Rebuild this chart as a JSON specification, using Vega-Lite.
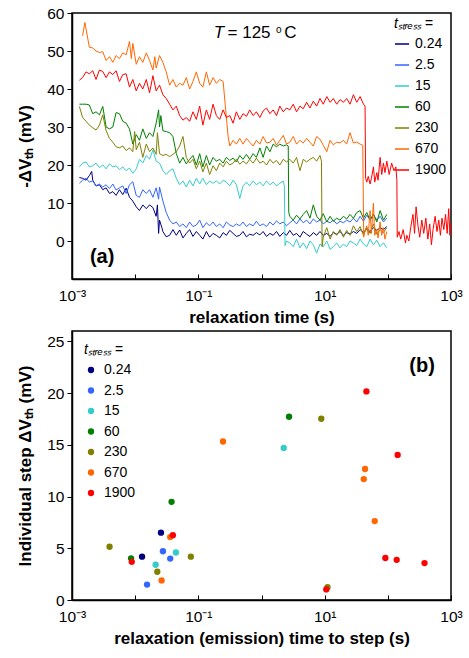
{
"$schema": "https://vega.github.io/schema/vega-lite/v6.json",
"background": "white",
"padding": {"left": 16, "top": 5, "right": 0, "bottom": 3},
"spacing": 3,
"config": {
 "font": "Liberation Sans",
 "view": {"stroke": "black", "strokeWidth": 1.5},
 "axis": {"grid": false, "domainColor": "black", "domainWidth": 1.5, "tickColor": "black", "labelColor": "black", "titleColor": "black", "labelFont": "Liberation Sans", "titleFont": "Liberation Sans", "labelFontSize": 15.5, "titleFontSize": 17, "titleFontWeight": "bold"},
 "axisX": {"tickSize": -5, "labelPadding": 14, "labelFlush": false, "labelOverlap": false, "labelBound": false, "titlePadding": 6},
 "axisY": {"tickSize": 5, "labelPadding": 3, "titlePadding": 12, "labelOverlap": false},
 "legend": {"labelFont": "Liberation Sans", "titleFont": "Liberation Sans", "labelFontSize": 14, "titleFontSize": 14, "titleFontWeight": "normal", "titleFontStyle": "italic", "labelColor": "black", "titleColor": "black", "padding": 0}
},
"resolve": {"scale": {"x": "independent", "y": "independent", "color": "independent"}, "legend": {"color": "independent"}},
"datasets": {
 "lines": [
{"s":"0.24","t":0.00131,"v":16.7},{"s":"0.24","t":0.00147,"v":16.5},{"s":"0.24","t":0.00167,"v":16},{"s":"0.24","t":0.00188,"v":17.2},{"s":"0.24","t":0.00205,"v":18.3},{"s":"0.24","t":0.00213,"v":16},{"s":"0.24","t":0.0024,"v":14.5},{"s":"0.24","t":0.00272,"v":14.8},{"s":"0.24","t":0.00307,"v":13.5},{"s":"0.24","t":0.00347,"v":14},{"s":"0.24","t":0.00392,"v":12.5},{"s":"0.24","t":0.00443,"v":13},{"s":"0.24","t":0.00499,"v":12},{"s":"0.24","t":0.00564,"v":13.5},{"s":"0.24","t":0.00637,"v":12.2},{"s":"0.24","t":0.0072,"v":13.9},{"s":"0.24","t":0.00813,"v":11.5},{"s":"0.24","t":0.00918,"v":10.5},{"s":"0.24","t":0.0104,"v":9},{"s":"0.24","t":0.0117,"v":8},{"s":"0.24","t":0.0132,"v":9.5},{"s":"0.24","t":0.015,"v":8.5},{"s":"0.24","t":0.0169,"v":9.5},{"s":"0.24","t":0.0191,"v":8.8},{"s":"0.24","t":0.0215,"v":6.5},{"s":"0.24","t":0.0225,"v":9.5},{"s":"0.24","t":0.0235,"v":2},{"s":"0.24","t":0.0243,"v":5.5},{"s":"0.24","t":0.0265,"v":3.5},{"s":"0.24","t":0.0275,"v":2.5},{"s":"0.24","t":0.031,"v":1.1},{"s":"0.24","t":0.0351,"v":1.5},{"s":"0.24","t":0.0396,"v":3},{"s":"0.24","t":0.0448,"v":1.5},{"s":"0.24","t":0.0506,"v":2.9},{"s":"0.24","t":0.0571,"v":0.8},{"s":"0.24","t":0.0645,"v":2},{"s":"0.24","t":0.0728,"v":3},{"s":"0.24","t":0.0822,"v":1.2},{"s":"0.24","t":0.0929,"v":2.5},{"s":"0.24","t":0.105,"v":1.5},{"s":"0.24","t":0.118,"v":0.5},{"s":"0.24","t":0.134,"v":2.5},{"s":"0.24","t":0.151,"v":1},{"s":"0.24","t":0.171,"v":2},{"s":"0.24","t":0.193,"v":1.5},{"s":"0.24","t":0.218,"v":0.8},{"s":"0.24","t":0.247,"v":2.2},{"s":"0.24","t":0.278,"v":1.5},{"s":"0.24","t":0.315,"v":2.8},{"s":"0.24","t":0.355,"v":2},{"s":"0.24","t":0.4,"v":1.2},{"s":"0.24","t":0.453,"v":1.5},{"s":"0.24","t":0.51,"v":2.5},{"s":"0.24","t":0.578,"v":1.1},{"s":"0.24","t":0.65,"v":1.8},{"s":"0.24","t":0.738,"v":1.5},{"s":"0.24","t":0.83,"v":2.2},{"s":"0.24","t":0.942,"v":1.6},{"s":"0.24","t":1.06,"v":2.5},{"s":"0.24","t":1.2,"v":1.2},{"s":"0.24","t":1.36,"v":2},{"s":"0.24","t":1.53,"v":1.5},{"s":"0.24","t":1.73,"v":2.5},{"s":"0.24","t":1.95,"v":1.2},{"s":"0.24","t":2.21,"v":2.2},{"s":"0.24","t":2.49,"v":1.5},{"s":"0.24","t":2.81,"v":2.8},{"s":"0.24","t":3.18,"v":1.5},{"s":"0.24","t":3.59,"v":2},{"s":"0.24","t":4.06,"v":1},{"s":"0.24","t":4.58,"v":2.5},{"s":"0.24","t":5.18,"v":1.8},{"s":"0.24","t":5.85,"v":1.2},{"s":"0.24","t":6.61,"v":2.2},{"s":"0.24","t":7.46,"v":1.5},{"s":"0.24","t":8.43,"v":2.5},{"s":"0.24","t":9.5,"v":1.5},{"s":"0.24","t":10.8,"v":2},{"s":"0.24","t":12.2,"v":1.2},{"s":"0.24","t":13.7,"v":2.2},{"s":"0.24","t":15.5,"v":1.8},{"s":"0.24","t":17.5,"v":2.5},{"s":"0.24","t":19.8,"v":1.5},{"s":"0.24","t":22.3,"v":2.2},{"s":"0.24","t":25.2,"v":1.8},{"s":"0.24","t":28.5,"v":2.5},{"s":"0.24","t":32.2,"v":2},{"s":"0.24","t":36.4,"v":3},{"s":"0.24","t":41.1,"v":2.2},{"s":"0.24","t":46.4,"v":3.2},{"s":"0.24","t":52.4,"v":2.5},{"s":"0.24","t":59.2,"v":3.5},{"s":"0.24","t":66.9,"v":2.8},{"s":"0.24","t":75.5,"v":3.5},{"s":"0.24","t":85.3,"v":3},{"s":"0.24","t":96.4,"v":3.8},
{"s":"2.5","t":0.00131,"v":15.2},{"s":"2.5","t":0.00147,"v":16},{"s":"2.5","t":0.00167,"v":16.5},{"s":"2.5","t":0.00188,"v":15.5},{"s":"2.5","t":0.00213,"v":15.8},{"s":"2.5","t":0.0024,"v":14.5},{"s":"2.5","t":0.00272,"v":15},{"s":"2.5","t":0.00307,"v":14.2},{"s":"2.5","t":0.00347,"v":14.8},{"s":"2.5","t":0.00392,"v":13.8},{"s":"2.5","t":0.00443,"v":15},{"s":"2.5","t":0.00499,"v":13.4},{"s":"2.5","t":0.00564,"v":14},{"s":"2.5","t":0.00637,"v":14.5},{"s":"2.5","t":0.0072,"v":12.5},{"s":"2.5","t":0.00813,"v":14.8},{"s":"2.5","t":0.00918,"v":15.6},{"s":"2.5","t":0.0104,"v":12},{"s":"2.5","t":0.0117,"v":11.5},{"s":"2.5","t":0.0132,"v":13.5},{"s":"2.5","t":0.015,"v":12.5},{"s":"2.5","t":0.0169,"v":13.5},{"s":"2.5","t":0.0191,"v":11.5},{"s":"2.5","t":0.0215,"v":14},{"s":"2.5","t":0.0235,"v":11},{"s":"2.5","t":0.0243,"v":14.2},{"s":"2.5","t":0.0275,"v":10.5},{"s":"2.5","t":0.031,"v":7.5},{"s":"2.5","t":0.0351,"v":5.5},{"s":"2.5","t":0.0396,"v":4.5},{"s":"2.5","t":0.0448,"v":5},{"s":"2.5","t":0.0506,"v":3.8},{"s":"2.5","t":0.0571,"v":4.5},{"s":"2.5","t":0.0645,"v":3.5},{"s":"2.5","t":0.0728,"v":5},{"s":"2.5","t":0.0822,"v":3.8},{"s":"2.5","t":0.0929,"v":4.2},{"s":"2.5","t":0.105,"v":5.5},{"s":"2.5","t":0.118,"v":3.5},{"s":"2.5","t":0.134,"v":4.8},{"s":"2.5","t":0.151,"v":4},{"s":"2.5","t":0.171,"v":5},{"s":"2.5","t":0.193,"v":3.8},{"s":"2.5","t":0.218,"v":4.5},{"s":"2.5","t":0.247,"v":3.5},{"s":"2.5","t":0.278,"v":5},{"s":"2.5","t":0.315,"v":4.2},{"s":"2.5","t":0.355,"v":3.8},{"s":"2.5","t":0.4,"v":4.5},{"s":"2.5","t":0.453,"v":4},{"s":"2.5","t":0.51,"v":5},{"s":"2.5","t":0.578,"v":3.8},{"s":"2.5","t":0.65,"v":4.5},{"s":"2.5","t":0.738,"v":4},{"s":"2.5","t":0.83,"v":5.2},{"s":"2.5","t":0.942,"v":4},{"s":"2.5","t":1.06,"v":4.5},{"s":"2.5","t":1.2,"v":3.8},{"s":"2.5","t":1.36,"v":5},{"s":"2.5","t":1.53,"v":4.2},{"s":"2.5","t":1.73,"v":5.3},{"s":"2.5","t":1.95,"v":4.5},{"s":"2.5","t":2.21,"v":5},{"s":"2.5","t":2.49,"v":4},{"s":"2.5","t":2.81,"v":4.8},{"s":"2.5","t":3.18,"v":5.5},{"s":"2.5","t":3.59,"v":4.5},{"s":"2.5","t":4.06,"v":5.8},{"s":"2.5","t":4.58,"v":4.8},{"s":"2.5","t":5.18,"v":5.5},{"s":"2.5","t":5.85,"v":4.5},{"s":"2.5","t":6.61,"v":5.8},{"s":"2.5","t":7.46,"v":5},{"s":"2.5","t":8.43,"v":5.5},{"s":"2.5","t":9.5,"v":4.5},{"s":"2.5","t":10.8,"v":5.2},{"s":"2.5","t":12.2,"v":4.8},{"s":"2.5","t":13.7,"v":5.5},{"s":"2.5","t":15.5,"v":4.5},{"s":"2.5","t":17.5,"v":5.2},{"s":"2.5","t":19.8,"v":4.8},{"s":"2.5","t":22.3,"v":5.5},{"s":"2.5","t":25.2,"v":5},{"s":"2.5","t":28.5,"v":6},{"s":"2.5","t":32.2,"v":5},{"s":"2.5","t":36.4,"v":6.5},{"s":"2.5","t":41.1,"v":5.2},{"s":"2.5","t":46.4,"v":6.8},{"s":"2.5","t":52.4,"v":5.5},{"s":"2.5","t":59.2,"v":7},{"s":"2.5","t":66.9,"v":5.5},{"s":"2.5","t":75.5,"v":6.5},{"s":"2.5","t":85.3,"v":5},{"s":"2.5","t":96.4,"v":6},
{"s":"15","t":0.00131,"v":19.5},{"s":"15","t":0.00147,"v":20.5},{"s":"15","t":0.00167,"v":20.8},{"s":"15","t":0.00188,"v":19.5},{"s":"15","t":0.00213,"v":19.8},{"s":"15","t":0.0024,"v":20.5},{"s":"15","t":0.00272,"v":19.3},{"s":"15","t":0.00307,"v":20},{"s":"15","t":0.00347,"v":19},{"s":"15","t":0.00392,"v":20.3},{"s":"15","t":0.00443,"v":19.5},{"s":"15","t":0.00499,"v":19.8},{"s":"15","t":0.00564,"v":18.8},{"s":"15","t":0.00637,"v":19.5},{"s":"15","t":0.0072,"v":18.5},{"s":"15","t":0.00813,"v":19.2},{"s":"15","t":0.00918,"v":17.8},{"s":"15","t":0.0104,"v":19},{"s":"15","t":0.0117,"v":21.5},{"s":"15","t":0.0132,"v":20.5},{"s":"15","t":0.015,"v":22.5},{"s":"15","t":0.0169,"v":21.5},{"s":"15","t":0.0191,"v":24},{"s":"15","t":0.0215,"v":21},{"s":"15","t":0.0243,"v":20.5},{"s":"15","t":0.0275,"v":18.5},{"s":"15","t":0.031,"v":17.5},{"s":"15","t":0.0351,"v":18.5},{"s":"15","t":0.0396,"v":19},{"s":"15","t":0.0448,"v":16.5},{"s":"15","t":0.0506,"v":14.8},{"s":"15","t":0.0571,"v":15.8},{"s":"15","t":0.0645,"v":14.2},{"s":"15","t":0.0728,"v":16},{"s":"15","t":0.0822,"v":14.5},{"s":"15","t":0.0929,"v":16.5},{"s":"15","t":0.105,"v":15},{"s":"15","t":0.118,"v":16.5},{"s":"15","t":0.134,"v":14.8},{"s":"15","t":0.151,"v":15.8},{"s":"15","t":0.171,"v":15.2},{"s":"15","t":0.193,"v":15.8},{"s":"15","t":0.218,"v":15},{"s":"15","t":0.247,"v":16},{"s":"15","t":0.278,"v":15.5},{"s":"15","t":0.315,"v":14.5},{"s":"15","t":0.355,"v":16},{"s":"15","t":0.4,"v":14.8},{"s":"15","t":0.453,"v":11.2},{"s":"15","t":0.51,"v":14.5},{"s":"15","t":0.578,"v":15.5},{"s":"15","t":0.65,"v":14.5},{"s":"15","t":0.738,"v":15.8},{"s":"15","t":0.83,"v":14.8},{"s":"15","t":0.942,"v":15.5},{"s":"15","t":1.06,"v":14.5},{"s":"15","t":1.2,"v":15.8},{"s":"15","t":1.36,"v":14.8},{"s":"15","t":1.53,"v":15.5},{"s":"15","t":1.73,"v":14.5},{"s":"15","t":1.95,"v":15.2},{"s":"15","t":2.21,"v":15.8},{"s":"15","t":2.3,"v":14.5},{"s":"15","t":2.36,"v":-1.2},{"s":"15","t":2.49,"v":0},{"s":"15","t":2.81,"v":-0.5},{"s":"15","t":3.18,"v":-1.5},{"s":"15","t":3.59,"v":0.5},{"s":"15","t":4.06,"v":-1.8},{"s":"15","t":4.58,"v":-0.5},{"s":"15","t":5.18,"v":-2},{"s":"15","t":5.85,"v":0},{"s":"15","t":6.61,"v":-1},{"s":"15","t":7.46,"v":-3.2},{"s":"15","t":8.43,"v":-0.8},{"s":"15","t":9.5,"v":-1.5},{"s":"15","t":10.8,"v":0},{"s":"15","t":12.2,"v":-2.2},{"s":"15","t":13.7,"v":-1.5},{"s":"15","t":15.5,"v":-0.5},{"s":"15","t":17.5,"v":-1.8},{"s":"15","t":19.8,"v":-0.8},{"s":"15","t":22.3,"v":-1.5},{"s":"15","t":25.2,"v":0},{"s":"15","t":28.5,"v":-0.5},{"s":"15","t":32.2,"v":-1.2},{"s":"15","t":36.4,"v":0.5},{"s":"15","t":41.1,"v":-0.8},{"s":"15","t":46.4,"v":-1.5},{"s":"15","t":52.4,"v":0.5},{"s":"15","t":59.2,"v":-1},{"s":"15","t":66.9,"v":0.2},{"s":"15","t":75.5,"v":-1.5},{"s":"15","t":85.3,"v":-0.5},{"s":"15","t":96.4,"v":-1.8},
{"s":"60","t":0.00131,"v":36},{"s":"60","t":0.00147,"v":36},{"s":"60","t":0.00167,"v":36},{"s":"60","t":0.00188,"v":35.8},{"s":"60","t":0.00213,"v":33.5},{"s":"60","t":0.0024,"v":34},{"s":"60","t":0.00272,"v":33.2},{"s":"60","t":0.00307,"v":35.4},{"s":"60","t":0.00347,"v":30},{"s":"60","t":0.00392,"v":29.5},{"s":"60","t":0.00443,"v":30},{"s":"60","t":0.00499,"v":33.8},{"s":"60","t":0.00564,"v":33.5},{"s":"60","t":0.00637,"v":31.5},{"s":"60","t":0.0072,"v":31},{"s":"60","t":0.00813,"v":29.5},{"s":"60","t":0.00918,"v":25.5},{"s":"60","t":0.0104,"v":28},{"s":"60","t":0.0117,"v":26.5},{"s":"60","t":0.0132,"v":29.5},{"s":"60","t":0.015,"v":27},{"s":"60","t":0.0169,"v":28.5},{"s":"60","t":0.0191,"v":27.5},{"s":"60","t":0.0215,"v":31},{"s":"60","t":0.0235,"v":34.5},{"s":"60","t":0.0243,"v":30},{"s":"60","t":0.0255,"v":33},{"s":"60","t":0.0275,"v":29},{"s":"60","t":0.031,"v":28.8},{"s":"60","t":0.0351,"v":28.5},{"s":"60","t":0.0396,"v":27.5},{"s":"60","t":0.0448,"v":23},{"s":"60","t":0.0506,"v":20.5},{"s":"60","t":0.0571,"v":22},{"s":"60","t":0.0645,"v":20.3},{"s":"60","t":0.0728,"v":21.5},{"s":"60","t":0.0822,"v":22.5},{"s":"60","t":0.0929,"v":20},{"s":"60","t":0.105,"v":23},{"s":"60","t":0.118,"v":19.5},{"s":"60","t":0.134,"v":22.5},{"s":"60","t":0.151,"v":20},{"s":"60","t":0.171,"v":22},{"s":"60","t":0.193,"v":21},{"s":"60","t":0.218,"v":21.5},{"s":"60","t":0.247,"v":20.5},{"s":"60","t":0.278,"v":22},{"s":"60","t":0.315,"v":21.2},{"s":"60","t":0.355,"v":21.8},{"s":"60","t":0.4,"v":20.8},{"s":"60","t":0.453,"v":22.5},{"s":"60","t":0.51,"v":21.5},{"s":"60","t":0.578,"v":22.8},{"s":"60","t":0.65,"v":21.5},{"s":"60","t":0.738,"v":23},{"s":"60","t":0.83,"v":22},{"s":"60","t":0.942,"v":24.5},{"s":"60","t":1.06,"v":22},{"s":"60","t":1.2,"v":25},{"s":"60","t":1.36,"v":23.5},{"s":"60","t":1.53,"v":25.5},{"s":"60","t":1.73,"v":24.8},{"s":"60","t":1.95,"v":25.5},{"s":"60","t":2.21,"v":25},{"s":"60","t":2.49,"v":25.3},{"s":"60","t":2.65,"v":25},{"s":"60","t":2.7,"v":7.5},{"s":"60","t":2.81,"v":6.5},{"s":"60","t":3.18,"v":5.5},{"s":"60","t":3.59,"v":6.8},{"s":"60","t":4.06,"v":5.8},{"s":"60","t":4.58,"v":7},{"s":"60","t":5.18,"v":8},{"s":"60","t":5.85,"v":6},{"s":"60","t":6.61,"v":9.5},{"s":"60","t":7.46,"v":6.5},{"s":"60","t":8.43,"v":5.5},{"s":"60","t":9.5,"v":7.2},{"s":"60","t":10.8,"v":5},{"s":"60","t":12.2,"v":6.5},{"s":"60","t":13.7,"v":5.2},{"s":"60","t":15.5,"v":6},{"s":"60","t":17.5,"v":5.5},{"s":"60","t":19.8,"v":6.5},{"s":"60","t":22.3,"v":5.8},{"s":"60","t":25.2,"v":7},{"s":"60","t":28.5,"v":6},{"s":"60","t":32.2,"v":7.5},{"s":"60","t":36.4,"v":8},{"s":"60","t":41.1,"v":6},{"s":"60","t":46.4,"v":7.5},{"s":"60","t":52.4,"v":5.5},{"s":"60","t":59.2,"v":7},{"s":"60","t":66.9,"v":5},{"s":"60","t":75.5,"v":8},{"s":"60","t":85.3,"v":5.5},{"s":"60","t":96.4,"v":7},
{"s":"230","t":0.00131,"v":35.4},{"s":"230","t":0.00147,"v":32.5},{"s":"230","t":0.00167,"v":31.5},{"s":"230","t":0.00188,"v":30.5},{"s":"230","t":0.00213,"v":29.8},{"s":"230","t":0.0024,"v":29.2},{"s":"230","t":0.00272,"v":30.5},{"s":"230","t":0.00307,"v":33.2},{"s":"230","t":0.00347,"v":29},{"s":"230","t":0.00392,"v":27},{"s":"230","t":0.00443,"v":26},{"s":"230","t":0.00499,"v":24.8},{"s":"230","t":0.00564,"v":24.5},{"s":"230","t":0.00637,"v":25},{"s":"230","t":0.0072,"v":23.8},{"s":"230","t":0.00813,"v":24.5},{"s":"230","t":0.00918,"v":23.5},{"s":"230","t":0.0098,"v":28.8},{"s":"230","t":0.0104,"v":24},{"s":"230","t":0.0117,"v":26},{"s":"230","t":0.0132,"v":22},{"s":"230","t":0.015,"v":25.5},{"s":"230","t":0.0169,"v":23.5},{"s":"230","t":0.0191,"v":24.5},{"s":"230","t":0.0215,"v":22.8},{"s":"230","t":0.0225,"v":28.5},{"s":"230","t":0.0243,"v":23},{"s":"230","t":0.0275,"v":22.5},{"s":"230","t":0.031,"v":22.8},{"s":"230","t":0.0351,"v":22.2},{"s":"230","t":0.0396,"v":22.8},{"s":"230","t":0.0448,"v":23.5},{"s":"230","t":0.0506,"v":25},{"s":"230","t":0.0571,"v":27.5},{"s":"230","t":0.0645,"v":22},{"s":"230","t":0.0728,"v":20.5},{"s":"230","t":0.0822,"v":21.5},{"s":"230","t":0.0929,"v":19},{"s":"230","t":0.105,"v":21},{"s":"230","t":0.118,"v":18.2},{"s":"230","t":0.134,"v":20.5},{"s":"230","t":0.151,"v":17.5},{"s":"230","t":0.171,"v":19.8},{"s":"230","t":0.193,"v":18.5},{"s":"230","t":0.218,"v":20.5},{"s":"230","t":0.247,"v":19.5},{"s":"230","t":0.278,"v":21},{"s":"230","t":0.315,"v":20},{"s":"230","t":0.355,"v":20.5},{"s":"230","t":0.4,"v":21.5},{"s":"230","t":0.453,"v":20.2},{"s":"230","t":0.51,"v":21},{"s":"230","t":0.578,"v":20.3},{"s":"230","t":0.65,"v":21.5},{"s":"230","t":0.738,"v":20.5},{"s":"230","t":0.83,"v":21.8},{"s":"230","t":0.942,"v":20.5},{"s":"230","t":1.06,"v":21},{"s":"230","t":1.2,"v":20},{"s":"230","t":1.36,"v":21.5},{"s":"230","t":1.53,"v":20.5},{"s":"230","t":1.73,"v":21.2},{"s":"230","t":1.95,"v":20},{"s":"230","t":2.21,"v":21.5},{"s":"230","t":2.49,"v":20.8},{"s":"230","t":2.81,"v":21.5},{"s":"230","t":3.18,"v":20.5},{"s":"230","t":3.59,"v":22},{"s":"230","t":4.06,"v":18.5},{"s":"230","t":4.58,"v":21.5},{"s":"230","t":5.18,"v":20.8},{"s":"230","t":5.85,"v":21.5},{"s":"230","t":6.61,"v":22},{"s":"230","t":7.46,"v":21},{"s":"230","t":8.43,"v":22.5},{"s":"230","t":8.9,"v":21},{"s":"230","t":9.1,"v":-1.5},{"s":"230","t":9.5,"v":1},{"s":"230","t":10.8,"v":3.5},{"s":"230","t":12.2,"v":0.5},{"s":"230","t":13.7,"v":2.5},{"s":"230","t":15.5,"v":1.5},{"s":"230","t":17.5,"v":3},{"s":"230","t":19.8,"v":1},{"s":"230","t":22.3,"v":2.8},{"s":"230","t":25.2,"v":1.5},{"s":"230","t":28.5,"v":4},{"s":"230","t":32.2,"v":2.5},{"s":"230","t":36.4,"v":3.8},{"s":"230","t":41.1,"v":1.5},{"s":"230","t":46.4,"v":3.5},{"s":"230","t":52.4,"v":2},{"s":"230","t":59.2,"v":4.5},{"s":"230","t":66.9,"v":1.8},{"s":"230","t":75.5,"v":3},{"s":"230","t":85.3,"v":2.2},{"s":"230","t":96.4,"v":3.5},
{"s":"670","t":0.00147,"v":54},{"s":"670","t":0.0016,"v":57.5},{"s":"670","t":0.00188,"v":51},{"s":"670","t":0.00213,"v":50.8},{"s":"670","t":0.0024,"v":50},{"s":"670","t":0.00272,"v":49.6},{"s":"670","t":0.00307,"v":49.8},{"s":"670","t":0.00347,"v":47.5},{"s":"670","t":0.00392,"v":48.5},{"s":"670","t":0.00443,"v":47},{"s":"670","t":0.00499,"v":48.8},{"s":"670","t":0.00564,"v":48},{"s":"670","t":0.00637,"v":49.5},{"s":"670","t":0.0072,"v":49},{"s":"670","t":0.00813,"v":52.5},{"s":"670","t":0.0087,"v":48},{"s":"670","t":0.00918,"v":52},{"s":"670","t":0.0104,"v":46.5},{"s":"670","t":0.0117,"v":48.5},{"s":"670","t":0.0132,"v":47},{"s":"670","t":0.015,"v":49.5},{"s":"670","t":0.0169,"v":47.5},{"s":"670","t":0.0191,"v":45},{"s":"670","t":0.0205,"v":48.5},{"s":"670","t":0.0215,"v":45.5},{"s":"670","t":0.0243,"v":48.8},{"s":"670","t":0.0275,"v":47},{"s":"670","t":0.031,"v":44.5},{"s":"670","t":0.0351,"v":41},{"s":"670","t":0.0396,"v":42.5},{"s":"670","t":0.0448,"v":40.5},{"s":"670","t":0.0506,"v":41.5},{"s":"670","t":0.0571,"v":41},{"s":"670","t":0.0645,"v":43},{"s":"670","t":0.0728,"v":40},{"s":"670","t":0.0822,"v":42},{"s":"670","t":0.0929,"v":44.5},{"s":"670","t":0.105,"v":41.5},{"s":"670","t":0.118,"v":40.5},{"s":"670","t":0.134,"v":44.5},{"s":"670","t":0.151,"v":41},{"s":"670","t":0.171,"v":43},{"s":"670","t":0.193,"v":41.5},{"s":"670","t":0.218,"v":42.5},{"s":"670","t":0.247,"v":42},{"s":"670","t":0.296,"v":27.5},{"s":"670","t":0.315,"v":25},{"s":"670","t":0.355,"v":26.5},{"s":"670","t":0.4,"v":25.5},{"s":"670","t":0.453,"v":27},{"s":"670","t":0.51,"v":25.5},{"s":"670","t":0.578,"v":27},{"s":"670","t":0.65,"v":26},{"s":"670","t":0.738,"v":25},{"s":"670","t":0.83,"v":26.5},{"s":"670","t":0.942,"v":25.5},{"s":"670","t":1.06,"v":27.5},{"s":"670","t":1.2,"v":25.8},{"s":"670","t":1.36,"v":26},{"s":"670","t":1.53,"v":27},{"s":"670","t":1.73,"v":25.2},{"s":"670","t":1.95,"v":26.5},{"s":"670","t":2.21,"v":27.8},{"s":"670","t":2.49,"v":25.5},{"s":"670","t":2.81,"v":26},{"s":"670","t":3.18,"v":27.5},{"s":"670","t":3.59,"v":25.5},{"s":"670","t":4.06,"v":26.5},{"s":"670","t":4.58,"v":25.8},{"s":"670","t":5.18,"v":27},{"s":"670","t":5.85,"v":26},{"s":"670","t":6.61,"v":25},{"s":"670","t":7.46,"v":27.5},{"s":"670","t":8.43,"v":26.8},{"s":"670","t":9.5,"v":25.2},{"s":"670","t":10.8,"v":23.5},{"s":"670","t":12.2,"v":26.5},{"s":"670","t":13.7,"v":25.3},{"s":"670","t":15.5,"v":26},{"s":"670","t":17.5,"v":25.8},{"s":"670","t":19.8,"v":26.5},{"s":"670","t":22.3,"v":25.5},{"s":"670","t":25.2,"v":28.5},{"s":"670","t":28.5,"v":25.8},{"s":"670","t":32.2,"v":26},{"s":"670","t":36.4,"v":25.5},{"s":"670","t":40.1,"v":25.2},{"s":"670","t":41.5,"v":1},{"s":"670","t":43,"v":2.5},{"s":"670","t":46.4,"v":4},{"s":"670","t":49,"v":1.5},{"s":"670","t":52.4,"v":8},{"s":"670","t":55,"v":2},{"s":"670","t":59.2,"v":10},{"s":"670","t":62,"v":1.5},{"s":"670","t":66.9,"v":3},{"s":"670","t":70,"v":0.8},{"s":"670","t":75.5,"v":5},{"s":"670","t":80,"v":1.5},{"s":"670","t":85.3,"v":3.5},{"s":"670","t":90,"v":0.5},{"s":"670","t":96.4,"v":2.5},
{"s":"1900","t":0.00131,"v":42.3},{"s":"1900","t":0.00147,"v":43},{"s":"1900","t":0.00167,"v":44.5},{"s":"1900","t":0.00188,"v":44},{"s":"1900","t":0.00213,"v":44.8},{"s":"1900","t":0.0024,"v":42.5},{"s":"1900","t":0.00272,"v":45},{"s":"1900","t":0.00307,"v":44.6},{"s":"1900","t":0.00347,"v":43},{"s":"1900","t":0.00392,"v":44.5},{"s":"1900","t":0.00443,"v":43.8},{"s":"1900","t":0.00499,"v":44.8},{"s":"1900","t":0.00564,"v":42},{"s":"1900","t":0.00637,"v":43.8},{"s":"1900","t":0.0072,"v":44},{"s":"1900","t":0.00813,"v":40.5},{"s":"1900","t":0.00918,"v":42.5},{"s":"1900","t":0.0104,"v":39.5},{"s":"1900","t":0.0117,"v":41.5},{"s":"1900","t":0.0132,"v":40},{"s":"1900","t":0.015,"v":42.5},{"s":"1900","t":0.0169,"v":39},{"s":"1900","t":0.0191,"v":43.5},{"s":"1900","t":0.0215,"v":39.5},{"s":"1900","t":0.0243,"v":41},{"s":"1900","t":0.0275,"v":38.5},{"s":"1900","t":0.031,"v":37.5},{"s":"1900","t":0.0351,"v":36},{"s":"1900","t":0.0396,"v":34.5},{"s":"1900","t":0.0448,"v":35.5},{"s":"1900","t":0.0506,"v":33},{"s":"1900","t":0.0571,"v":31.8},{"s":"1900","t":0.0645,"v":32.5},{"s":"1900","t":0.0728,"v":31.5},{"s":"1900","t":0.0822,"v":34},{"s":"1900","t":0.0929,"v":32},{"s":"1900","t":0.105,"v":35.5},{"s":"1900","t":0.118,"v":30.5},{"s":"1900","t":0.134,"v":34.5},{"s":"1900","t":0.151,"v":32},{"s":"1900","t":0.171,"v":36},{"s":"1900","t":0.193,"v":33},{"s":"1900","t":0.218,"v":32},{"s":"1900","t":0.247,"v":34.5},{"s":"1900","t":0.278,"v":32.5},{"s":"1900","t":0.315,"v":33},{"s":"1900","t":0.355,"v":31},{"s":"1900","t":0.4,"v":34},{"s":"1900","t":0.453,"v":32},{"s":"1900","t":0.51,"v":33.5},{"s":"1900","t":0.578,"v":32.8},{"s":"1900","t":0.65,"v":34.5},{"s":"1900","t":0.738,"v":33},{"s":"1900","t":0.83,"v":34},{"s":"1900","t":0.942,"v":32.5},{"s":"1900","t":1.06,"v":34.2},{"s":"1900","t":1.2,"v":35},{"s":"1900","t":1.36,"v":33.5},{"s":"1900","t":1.53,"v":34.5},{"s":"1900","t":1.73,"v":33},{"s":"1900","t":1.95,"v":35.5},{"s":"1900","t":2.21,"v":34},{"s":"1900","t":2.49,"v":35},{"s":"1900","t":2.81,"v":34.5},{"s":"1900","t":3.18,"v":36},{"s":"1900","t":3.59,"v":34},{"s":"1900","t":4.06,"v":35.5},{"s":"1900","t":4.58,"v":34.8},{"s":"1900","t":5.18,"v":36.5},{"s":"1900","t":5.85,"v":35},{"s":"1900","t":6.61,"v":36.8},{"s":"1900","t":7.46,"v":35.5},{"s":"1900","t":8.43,"v":37.5},{"s":"1900","t":9.5,"v":36},{"s":"1900","t":10.8,"v":38},{"s":"1900","t":12.2,"v":36.5},{"s":"1900","t":13.7,"v":37.5},{"s":"1900","t":15.5,"v":36},{"s":"1900","t":17.5,"v":37.2},{"s":"1900","t":19.8,"v":36.5},{"s":"1900","t":22.3,"v":37.5},{"s":"1900","t":25.2,"v":36},{"s":"1900","t":28.5,"v":38.5},{"s":"1900","t":32.2,"v":36.5},{"s":"1900","t":36.4,"v":38},{"s":"1900","t":41.1,"v":36},{"s":"1900","t":43.6,"v":35.5},{"s":"1900","t":44.5,"v":16.5},{"s":"1900","t":46.4,"v":15.5},{"s":"1900","t":49,"v":17},{"s":"1900","t":52.4,"v":15},{"s":"1900","t":55,"v":16.5},{"s":"1900","t":59.2,"v":19.5},{"s":"1900","t":62,"v":15.5},{"s":"1900","t":66.9,"v":18},{"s":"1900","t":70,"v":16},{"s":"1900","t":75.5,"v":22},{"s":"1900","t":80,"v":17.5},{"s":"1900","t":85.3,"v":20.5},{"s":"1900","t":90,"v":18},{"s":"1900","t":96.4,"v":21},{"s":"1900","t":105,"v":17.5},{"s":"1900","t":115,"v":20.5},{"s":"1900","t":125,"v":18.5},{"s":"1900","t":134,"v":19.5},{"s":"1900","t":139,"v":16},{"s":"1900","t":141,"v":1},{"s":"1900","t":150,"v":2.5},{"s":"1900","t":160,"v":0.5},{"s":"1900","t":175,"v":3},{"s":"1900","t":190,"v":-0.5},{"s":"1900","t":200,"v":1.5},{"s":"1900","t":215,"v":0},{"s":"1900","t":230,"v":3.5},{"s":"1900","t":250,"v":7},{"s":"1900","t":265,"v":2},{"s":"1900","t":280,"v":9},{"s":"1900","t":300,"v":4},{"s":"1900","t":320,"v":1},{"s":"1900","t":345,"v":5.5},{"s":"1900","t":370,"v":2},{"s":"1900","t":400,"v":6},{"s":"1900","t":430,"v":0.5},{"s":"1900","t":460,"v":4.5},{"s":"1900","t":490,"v":-1},{"s":"1900","t":520,"v":3},{"s":"1900","t":560,"v":6.5},{"s":"1900","t":600,"v":2.5},{"s":"1900","t":640,"v":5.5},{"s":"1900","t":680,"v":1.5},{"s":"1900","t":720,"v":6},{"s":"1900","t":770,"v":3},{"s":"1900","t":820,"v":7},{"s":"1900","t":870,"v":2},{"s":"1900","t":920,"v":8.5},{"s":"1900","t":960,"v":1.5},{"s":"1900","t":1000,"v":5}
 ],
 "pts": [
{"s":"0.24","t":0.01285,"v":4.19},{"s":"0.24","t":0.0256,"v":6.51},
{"s":"2.5","t":0.0154,"v":1.49},{"s":"2.5","t":0.0275,"v":4.71},{"s":"2.5","t":0.0359,"v":4.0},
{"s":"15","t":0.0211,"v":3.41},{"s":"15","t":0.0442,"v":4.59},{"s":"15","t":2.25,"v":14.7},
{"s":"60","t":0.00861,"v":4.03},{"s":"60","t":0.0377,"v":9.49},{"s":"60","t":2.73,"v":17.71},
{"s":"230","t":0.00393,"v":5.15},{"s":"230","t":0.0224,"v":2.73},{"s":"230","t":0.076,"v":4.19},{"s":"230","t":8.84,"v":17.52},{"s":"230","t":11.1,"v":1.24},
{"s":"670","t":0.0262,"v":1.89},{"s":"670","t":0.0359,"v":6.08},{"s":"670","t":0.246,"v":15.32},{"s":"670","t":43.6,"v":12.66},{"s":"670","t":41.6,"v":11.69},{"s":"670","t":62.0,"v":7.63},
{"s":"1900","t":0.00883,"v":3.69},{"s":"1900","t":0.0395,"v":6.27},{"s":"1900","t":45.8,"v":20.16},{"s":"1900","t":143,"v":14.02},{"s":"1900","t":91.4,"v":4.06},{"s":"1900","t":138,"v":3.88},{"s":"1900","t":381,"v":3.57},{"s":"1900","t":10.6,"v":1.02}
 ]
},
"vconcat": [
 {
  "width": 379, "height": 266,
  "layer": [
   {
    "data": {"name": "lines"},
    "mark": {"type": "line", "strokeWidth": 1, "clip": true},
    "encoding": {
     "x": {"field": "t", "type": "quantitative", "scale": {"type": "log", "domain": [0.001, 1000]}, "title": "relaxation time (s)",
       "axis": {"values": [0.001, 0.01, 0.1, 1, 10, 100, 1000], "labelExpr": "datum.value < 0.002 ? '10⁻³' : (datum.value > 0.05 && datum.value < 0.2) ? '10⁻¹' : (datum.value > 5 && datum.value < 20) ? '10¹' : datum.value > 500 ? '10³' : ''"}},
     "y": {"field": "v", "type": "quantitative", "scale": {"domain": [-10, 60]}, "title": "-ΔVₜₕ (mV)", "axis": {"values": [0, 10, 20, 30, 40, 50, 60]}},
     "color": {"field": "s", "type": "nominal", "scale": {"domain": ["0.24", "2.5", "15", "60", "230", "670", "1900"], "range": ["#000080", "#3366FF", "#33CCCC", "#008000", "#808000", "#FF6600", "#FF0000"]},
       "legend": {"title": "tₛₜᵣₑₛₛ  =", "orient": "top-right", "offset": 4, "symbolType": "stroke", "symbolStrokeWidth": 1.5, "symbolSize": 200, "rowPadding": 6, "labelOffset": 5}}
    }
   },
   {
    "data": {"values": [{"t": 0.003, "v": -4.2, "txt": "(a)"}]},
    "mark": {"type": "text", "fontSize": 20, "fontWeight": "bold", "color": "black"},
    "encoding": {"x": {"field": "t", "type": "quantitative"}, "y": {"field": "v", "type": "quantitative"}, "text": {"field": "txt"}}
   },
   {
    "data": {"values": [{"t": 0.175, "v": 54.7, "txt": "T"}]},
    "mark": {"type": "text", "fontSize": 17, "fontStyle": "italic", "color": "black", "align": "left"},
    "encoding": {"x": {"field": "t", "type": "quantitative"}, "y": {"field": "v", "type": "quantitative"}, "text": {"field": "txt"}}
   },
   {
    "data": {"values": [{"t": 0.29, "v": 54.7, "txt": "= 125"}, {"t": 2.3, "v": 54.7, "txt": "C"}]},
    "mark": {"type": "text", "fontSize": 17, "color": "black", "align": "left"},
    "encoding": {"x": {"field": "t", "type": "quantitative"}, "y": {"field": "v", "type": "quantitative"}, "text": {"field": "txt"}}
   },
   {
    "data": {"values": [{"t": 1.69, "v": 55.6, "txt": "o"}]},
    "mark": {"type": "text", "fontSize": 10, "color": "black", "align": "left"},
    "encoding": {"x": {"field": "t", "type": "quantitative"}, "y": {"field": "v", "type": "quantitative"}, "text": {"field": "txt"}}
   }
  ]
 },
 {
  "width": 379, "height": 269,
  "layer": [
   {
    "data": {"name": "pts"},
    "mark": {"type": "point", "filled": true, "opacity": 1, "size": 40},
    "encoding": {
     "x": {"field": "t", "type": "quantitative", "scale": {"type": "log", "domain": [0.001, 1000]}, "title": "relaxation (emission) time to step (s)",
       "axis": {"values": [0.001, 0.01, 0.1, 1, 10, 100, 1000], "labelExpr": "datum.value < 0.002 ? '10⁻³' : (datum.value > 0.05 && datum.value < 0.2) ? '10⁻¹' : (datum.value > 5 && datum.value < 20) ? '10¹' : datum.value > 500 ? '10³' : ''"}},
     "y": {"field": "v", "type": "quantitative", "scale": {"domain": [0, 25]}, "title": "Individual step ΔVₜₕ (mV)", "axis": {"values": [0, 5, 10, 15, 20, 25]}},
     "color": {"field": "s", "type": "nominal", "scale": {"domain": ["0.24", "2.5", "15", "60", "230", "670", "1900"], "range": ["#000080", "#3366FF", "#33CCCC", "#008000", "#808000", "#FF6600", "#FF0000"]},
       "legend": {"title": "tₛₜᵣₑₛₛ  =", "orient": "top-left", "offset": 12, "symbolType": "circle", "symbolSize": 40, "symbolStrokeWidth": 0, "rowPadding": 6.5, "titlePadding": 6, "labelOffset": 6}}
    }
   },
   {
    "data": {"values": [{"t": 349, "v": 22.6, "txt": "(b)"}]},
    "mark": {"type": "text", "fontSize": 20, "fontWeight": "bold", "color": "black"},
    "encoding": {"x": {"field": "t", "type": "quantitative"}, "y": {"field": "v", "type": "quantitative"}, "text": {"field": "txt"}}
   }
  ]
 }
]
}
